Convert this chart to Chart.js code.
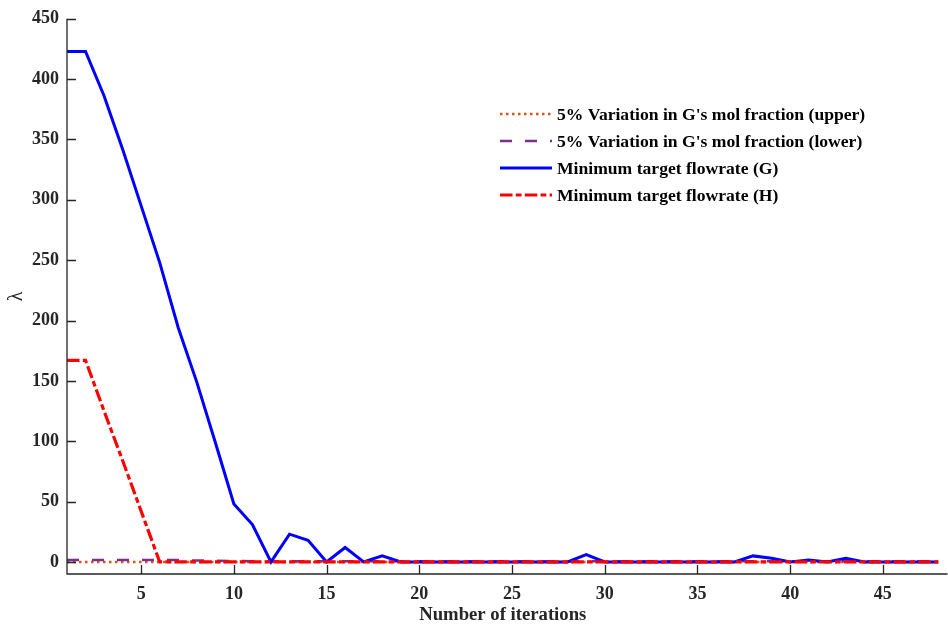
<!DOCTYPE html>
<html>
<head>
<meta charset="utf-8">
<script src="https://cdn.jsdelivr.net/npm/chart.js@4/dist/chart.umd.min.js"></script>
<style>
    html, body { margin: 0; padding: 0; background: #fff; }
    #wrap { width: 948px; height: 626px; }
</style>
</head>
<body>
<div id="wrap"><canvas id="lambdaChart" width="948" height="626"></canvas></div>
<script>
// Iteration numbers
const iterations = [1, 2, 3, 4, 5, 6, 7, 8, 9, 10, 11, 12, 13, 14, 15, 16, 17, 18, 19, 20,
    21, 22, 23, 24, 25, 26, 27, 28, 29, 30, 31, 32, 33, 34, 35, 36, 37, 38, 39, 40,
    41, 42, 43, 44, 45, 46, 47, 48];

// Lambda values per run
const upperVariation = [0, 0, 0, 0, 0, 0, 0, 0, 0, 0, 0, 0, 0, 0, 0, 0, 0, 0, 0, 0,
    0, 0, 0, 0, 0, 0, 0, 0, 0, 0, 0, 0, 0, 0, 0, 0, 0, 0, 0, 0,
    0, 0, 0, 0, 0, 0, 0, 0];
const lowerVariation = [1.5, 1.5, 1.5, 1.5, 1.5, 1.5, 1.5, 1.2, 1, 0.8, 0.5, 0.5, 0.5, 0.5, 0.5, 0.5, 0.5, 0.5, 0.5, 0.5,
    0.5, 0.5, 0.5, 0.5, 0.5, 0.5, 0.5, 0.5, 0.5, 0.5, 0.5, 0.5, 0.5, 0.5, 0.5, 0.5, 0.5, 0.5, 0.5, 0.5,
    0.5, 0.5, 0.5, 0.5, 0.5, 0.5, 0.5, 0.5];
const minFlowG = [423, 423, 386, 342, 295, 248, 194, 149, 99, 48, 31, 0, 23, 18, 0, 12, 0, 5, 0, 0,
    0, 0, 0, 0, 0, 0, 0, 0, 6, 0, 0, 0, 0, 0, 0, 0, 0, 5, 3, 0,
    1.5, 0, 3, 0, 0, 0, 0, 0];
const minFlowH = [167, 167, 125, 84, 42, 0, 0, 0, 0, 0, 0, 0, 0, 0, 0, 0, 0, 0, 0, 0,
    0, 0, 0, 0, 0, 0, 0, 0, 0, 0, 0, 0, 0, 0, 0, 0, 0, 0, 0, 0,
    0, 0, 0, 0, 0, 0, 0, 0];

const xTicks = [5, 10, 15, 20, 25, 30, 35, 40, 45];
const yTicks = [0, 50, 100, 150, 200, 250, 300, 350, 400, 450];

const seriesNames = [
    "5% Variation in G's mol fraction (upper)",
    "5% Variation in G's mol fraction (lower)",
    'Minimum target flowrate (G)',
    'Minimum target flowrate (H)'
];

const serif = "'Liberation Serif', 'Times New Roman', serif";
const axisColor = '#262626';

function points(values) {
    return values.map((v, i) => ({ x: iterations[i], y: v }));
}

// Box-off axes with inward ticks, the λ label and the legend block
const axesPlugin = {
    id: 'axesPlugin',
    afterDraw(chart) {
        const ctx = chart.ctx;
        const xs = chart.scales.x;
        const ys = chart.scales.y;
        const area = chart.chartArea;
        ctx.save();
        ctx.strokeStyle = axisColor;
        ctx.lineWidth = 1.3;
        ctx.beginPath();
        ctx.moveTo(area.left, area.top);
        ctx.lineTo(area.left, area.bottom);
        ctx.lineTo(area.right + 9, area.bottom);
        ctx.stroke();
        const tl = 9;
        ctx.beginPath();
        xTicks.forEach(t => {
            const px = Math.round(xs.getPixelForValue(t)) + 0.5;
            ctx.moveTo(px, area.bottom);
            ctx.lineTo(px, area.bottom - tl);
        });
        yTicks.forEach(t => {
            const py = Math.round(ys.getPixelForValue(t)) + 0.5;
            ctx.moveTo(area.left, py);
            ctx.lineTo(area.left + tl, py);
        });
        ctx.stroke();

        // y axis label
        ctx.save();
        ctx.translate(17, (area.top + area.bottom) / 2);
        ctx.rotate(-Math.PI / 2);
        ctx.font = '20px ' + serif;
        ctx.fillStyle = axisColor;
        ctx.textAlign = 'center';
        ctx.textBaseline = 'middle';
        ctx.fillText('λ', 0, 0);
        ctx.restore();

        // legend
        const lx0 = 500, lx1 = 552, tx = 557;
        const rows = [114, 141, 168, 195];
        ctx.font = 'bold 17.6px ' + serif;
        ctx.textBaseline = 'middle';
        chart.data.datasets.forEach((ds, i) => {
            ctx.strokeStyle = ds.borderColor;
            ctx.lineWidth = ds.borderWidth;
            ctx.setLineDash(ds.borderDash || []);
            ctx.beginPath();
            ctx.moveTo(lx0, rows[i]);
            ctx.lineTo(lx1, rows[i]);
            ctx.stroke();
            ctx.setLineDash([]);
            ctx.fillStyle = '#000';
            ctx.fillText(seriesNames[i], tx, rows[i] + 1);
        });
        ctx.restore();
    }
};

new Chart(document.getElementById('lambdaChart'), {
    type: 'line',
    data: {
        datasets: [
            {
                data: points(upperVariation),
                borderColor: '#D95319',
                borderWidth: 2.5,
                borderDash: [2.5, 3.5],
                order: 3
            },
            {
                data: points(lowerVariation),
                borderColor: '#7E2F8E',
                borderWidth: 2.5,
                borderDash: [12, 13],
                order: 2
            },
            {
                data: points(minFlowG),
                borderColor: '#0000FF',
                borderWidth: 3,
                order: 1
            },
            {
                data: points(minFlowH),
                borderColor: '#FF0000',
                borderWidth: 3.2,
                borderDash: [12.5, 3.3, 5.7, 3.3],
                order: 0
            }
        ]
    },
    options: {
        responsive: false,
        animation: false,
        elements: {
            point: { radius: 0 },
            line: { tension: 0, fill: false, borderJoinStyle: 'miter' }
        },
        layout: { padding: { top: 17, right: 9.5, left: 0, bottom: 0 } },
        plugins: {
            legend: { display: false },
            tooltip: { enabled: false }
        },
        scales: {
            x: {
                type: 'linear',
                min: 1,
                max: 48,
                afterBuildTicks: s => { s.ticks = xTicks.map(v => ({ value: v })); },
                afterFit: s => { s.height = 52; },
                grid: { display: false, drawTicks: false },
                border: { display: false },
                ticks: {
                    color: axisColor,
                    font: { family: serif, size: 18, weight: 'bold' },
                    padding: 10,
                    maxRotation: 0
                },
                title: {
                    display: true,
                    text: 'Number of iterations',
                    color: axisColor,
                    font: { family: serif, size: 18.7, weight: 'bold' },
                    padding: { top: 6, bottom: 0 }
                }
            },
            y: {
                min: -10,
                max: 450,
                afterBuildTicks: s => { s.ticks = yTicks.map(v => ({ value: v })); },
                afterFit: s => { s.width = 67; },
                grid: { display: false, drawTicks: false },
                border: { display: false },
                ticks: {
                    color: axisColor,
                    font: { family: serif, size: 18, weight: 'bold' },
                    padding: 8
                }
            }
        }
    },
    plugins: [axesPlugin]
});
</script>
</body>
</html>
